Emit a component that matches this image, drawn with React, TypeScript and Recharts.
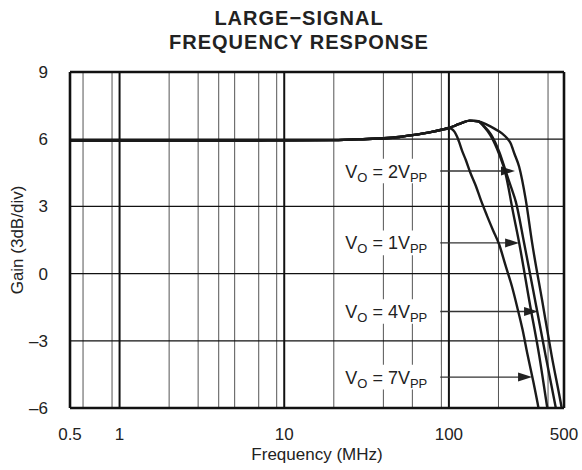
import React from 'react';
import {
  LineChart,
  Line,
  XAxis,
  YAxis,
  CartesianGrid,
  ReferenceLine,
  ReferenceArea,
} from 'recharts';

const FONT = '"Liberation Sans", Arial, Helvetica, sans-serif';

// shared low-frequency part of every curve (MHz, dB)
const freqCommon = [0.5, 1, 5, 10, 20, 30, 40, 50, 60, 70, 80, 90, 100];
const gainCommon = [5.94, 5.94, 5.94, 5.95, 5.96, 6.0, 6.04, 6.1, 6.18, 6.26, 6.34, 6.42, 6.5];

// peaking shared by 1, 2 and 4 Vpp
const freqPeak = [110, 120, 134, 150];
const gainPeak = [6.62, 6.73, 6.83, 6.8];

const freq7 = [104, 108, 112, 115, 120, 127, 135, 146, 156, 170, 185, 202, 220, 242, 260, 280, 300, 325, 350, 362];
const gain7 = [6.46, 6.34, 6.12, 5.9, 5.5, 5.05, 4.5, 3.9, 3.3, 2.6, 1.95, 1.3, 0.4, -0.6, -1.5, -2.5, -3.6, -4.8, -6, -6.6];

const freq1 = [165, 178, 190, 201, 221, 232, 240, 267, 311, 353, 396, 410];
const gain1 = [6.52, 6.19, 5.8, 5.37, 4.45, 3.7, 3.1, 1.38, -1.4, -3.63, -6, -6.7];

const freq4 = [165, 180, 203, 224, 240, 255, 286, 338, 386, 446, 462];
const gain4 = [6.55, 6.22, 5.4, 4.45, 3.8, 3.2, 1.38, -1.4, -3.63, -6, -6.6];

const freq2 = [170, 190, 210, 225, 237, 250, 267, 293, 320, 368, 420, 484, 500];
const gain2 = [6.65, 6.46, 6.26, 6.05, 5.82, 5.35, 4.77, 3.29, 1.38, -1.18, -3.63, -6, -6.6];

const xTicks = [0.5, 1, 10, 100, 500];
const yTicks = [-6, -3, 0, 3, 6, 9];
const minorGrid = [0.6, 0.7, 0.8, 0.9, 2, 3, 4, 5, 6, 7, 8, 9, 20, 30, 40, 50, 60, 70, 80, 90, 200, 300, 400];
const decadeGrid = [1, 10, 100];
const gainGrid = [-3, 0, 3, 6];

// annotation labels: text, gain level of the arrow, frequency of the arrow tip
const labelNames = ['2', '1', '4', '7'];
const labelGain = [4.58, 1.37, -1.69, -4.62];
const arrowTip = [252, 267, 348, 320];
const labelFrom = 21;
const labelTo = 88.6;

const toSeries = (f: number[], g: number[]) => f.map((v, i) => ({ f: v, g: g[i] }));

const common = toSeries(freqCommon, gainCommon);
const peak = toSeries(freqPeak, gainPeak);
const series = [
  [...common, ...toSeries(freq7, gain7)],
  [...common, ...peak, ...toSeries(freq1, gain1)],
  [...common, ...peak, ...toSeries(freq4, gain4)],
  [...common, ...peak, ...toSeries(freq2, gain2)],
];

const VoLabel = ({ viewBox, num }: any) => {
  if (!viewBox) return null;
  const x = viewBox.x + 8;
  const y = viewBox.y + viewBox.height / 2 + 6.5;
  return (
    <text x={x} y={y} fontSize={18} fontFamily={FONT} fill="#222">
      V
      <tspan dy={4} fontSize={13}>O</tspan>
      <tspan dy={-4} fontSize={18}>{` = ${num}V`}</tspan>
      <tspan dy={4} fontSize={13}>PP</tspan>
    </text>
  );
};

const Arrow = (props: any) => {
  const { x1, y1, x2 } = props;
  const y = y1;
  return (
    <g>
      <line x1={x1} y1={y} x2={x2 - 10} y2={y} stroke="#333" strokeWidth={1.4} />
      <polygon points={`${x2},${y} ${x2 - 14},${y - 4.5} ${x2 - 14},${y + 4.5}`} fill="#222" />
    </g>
  );
};

export default function App() {
  return (
    <div
      style={{
        position: 'absolute',
        left: 0,
        top: 0,
        width: 582,
        height: 470,
        background: '#fff',
        fontFamily: FONT,
        color: '#222',
      }}
    >
      <div
        style={{
          position: 'absolute',
          left: 0,
          width: 598,
          top: 6,
          textAlign: 'center',
          fontWeight: 'bold',
          fontSize: 20,
          letterSpacing: 1,
          lineHeight: '24px',
        }}
      >
        LARGE−SIGNAL
        <br />
        FREQUENCY RESPONSE
      </div>
      <LineChart
        width={582}
        height={470}
        margin={{ top: 72, right: 18, bottom: 0, left: 0 }}
        style={{ fontFamily: FONT }}
      >
        <CartesianGrid
          horizontal={false}
          verticalValues={minorGrid}
          stroke="#555"
          strokeWidth={1}
        />
        <XAxis
          dataKey="f"
          type="number"
          scale="log"
          domain={[0.5, 500]}
          ticks={xTicks}
          allowDataOverflow
          height={62}
          tickSize={0}
          tickMargin={20}
          axisLine={false}
          tick={{ fill: '#222', fontSize: 17 }}
        />
        <YAxis
          type="number"
          domain={[-6, 9]}
          ticks={yTicks}
          allowDataOverflow
          width={70}
          tickSize={0}
          tickMargin={22}
          axisLine={false}
          tick={{ fill: '#222', fontSize: 17 }}
          tickFormatter={(v: number) => (v < 0 ? `–${-v}` : `${v}`)}
        />
        {labelNames.map((n, i) => (
          <ReferenceArea
            key={`box-${n}`}
            x1={labelFrom}
            x2={labelTo}
            y1={labelGain[i] - 0.55}
            y2={labelGain[i] + 0.55}
            fill="#fff"
            fillOpacity={1}
            stroke="none"
            label={<VoLabel num={n} />}
          />
        ))}
        {decadeGrid.map((d) => (
          <ReferenceLine key={`dec-${d}`} x={d} stroke="#111" strokeWidth={2} />
        ))}
        {gainGrid.map((g) => (
          <ReferenceLine key={`gain-${g}`} y={g} stroke="#111" strokeWidth={1.2} />
        ))}
        {labelNames.map((n, i) => (
          <ReferenceLine
            key={`arrow-${n}`}
            segment={[
              { x: labelTo, y: labelGain[i] },
              { x: arrowTip[i], y: labelGain[i] },
            ]}
            shape={(p: any) => <Arrow {...p} />}
          />
        ))}
        {series.map((s, i) => (
          <Line
            key={`curve-${i}`}
            data={s}
            dataKey="g"
            type="monotone"
            stroke="#1a1a1a"
            strokeWidth={2.4}
            dot={false}
            activeDot={false}
            isAnimationActive={false}
          />
        ))}
        <ReferenceLine x={0.5} stroke="#111" strokeWidth={2.6} />
        <ReferenceLine x={500} stroke="#111" strokeWidth={2.6} />
        <ReferenceLine y={9} stroke="#111" strokeWidth={2.6} />
        <ReferenceLine y={-6} stroke="#111" strokeWidth={2.6} />
      </LineChart>
      <div
        style={{
          position: 'absolute',
          left: 18,
          top: 240,
          transform: 'translate(-50%, -50%) rotate(-90deg)',
          fontSize: 17,
          whiteSpace: 'nowrap',
        }}
      >
        Gain (3dB/div)
      </div>
      <div
        style={{
          position: 'absolute',
          left: 317,
          top: 455,
          transform: 'translate(-50%, -50%)',
          fontSize: 17,
          whiteSpace: 'nowrap',
        }}
      >
        Frequency (MHz)
      </div>
    </div>
  );
}
